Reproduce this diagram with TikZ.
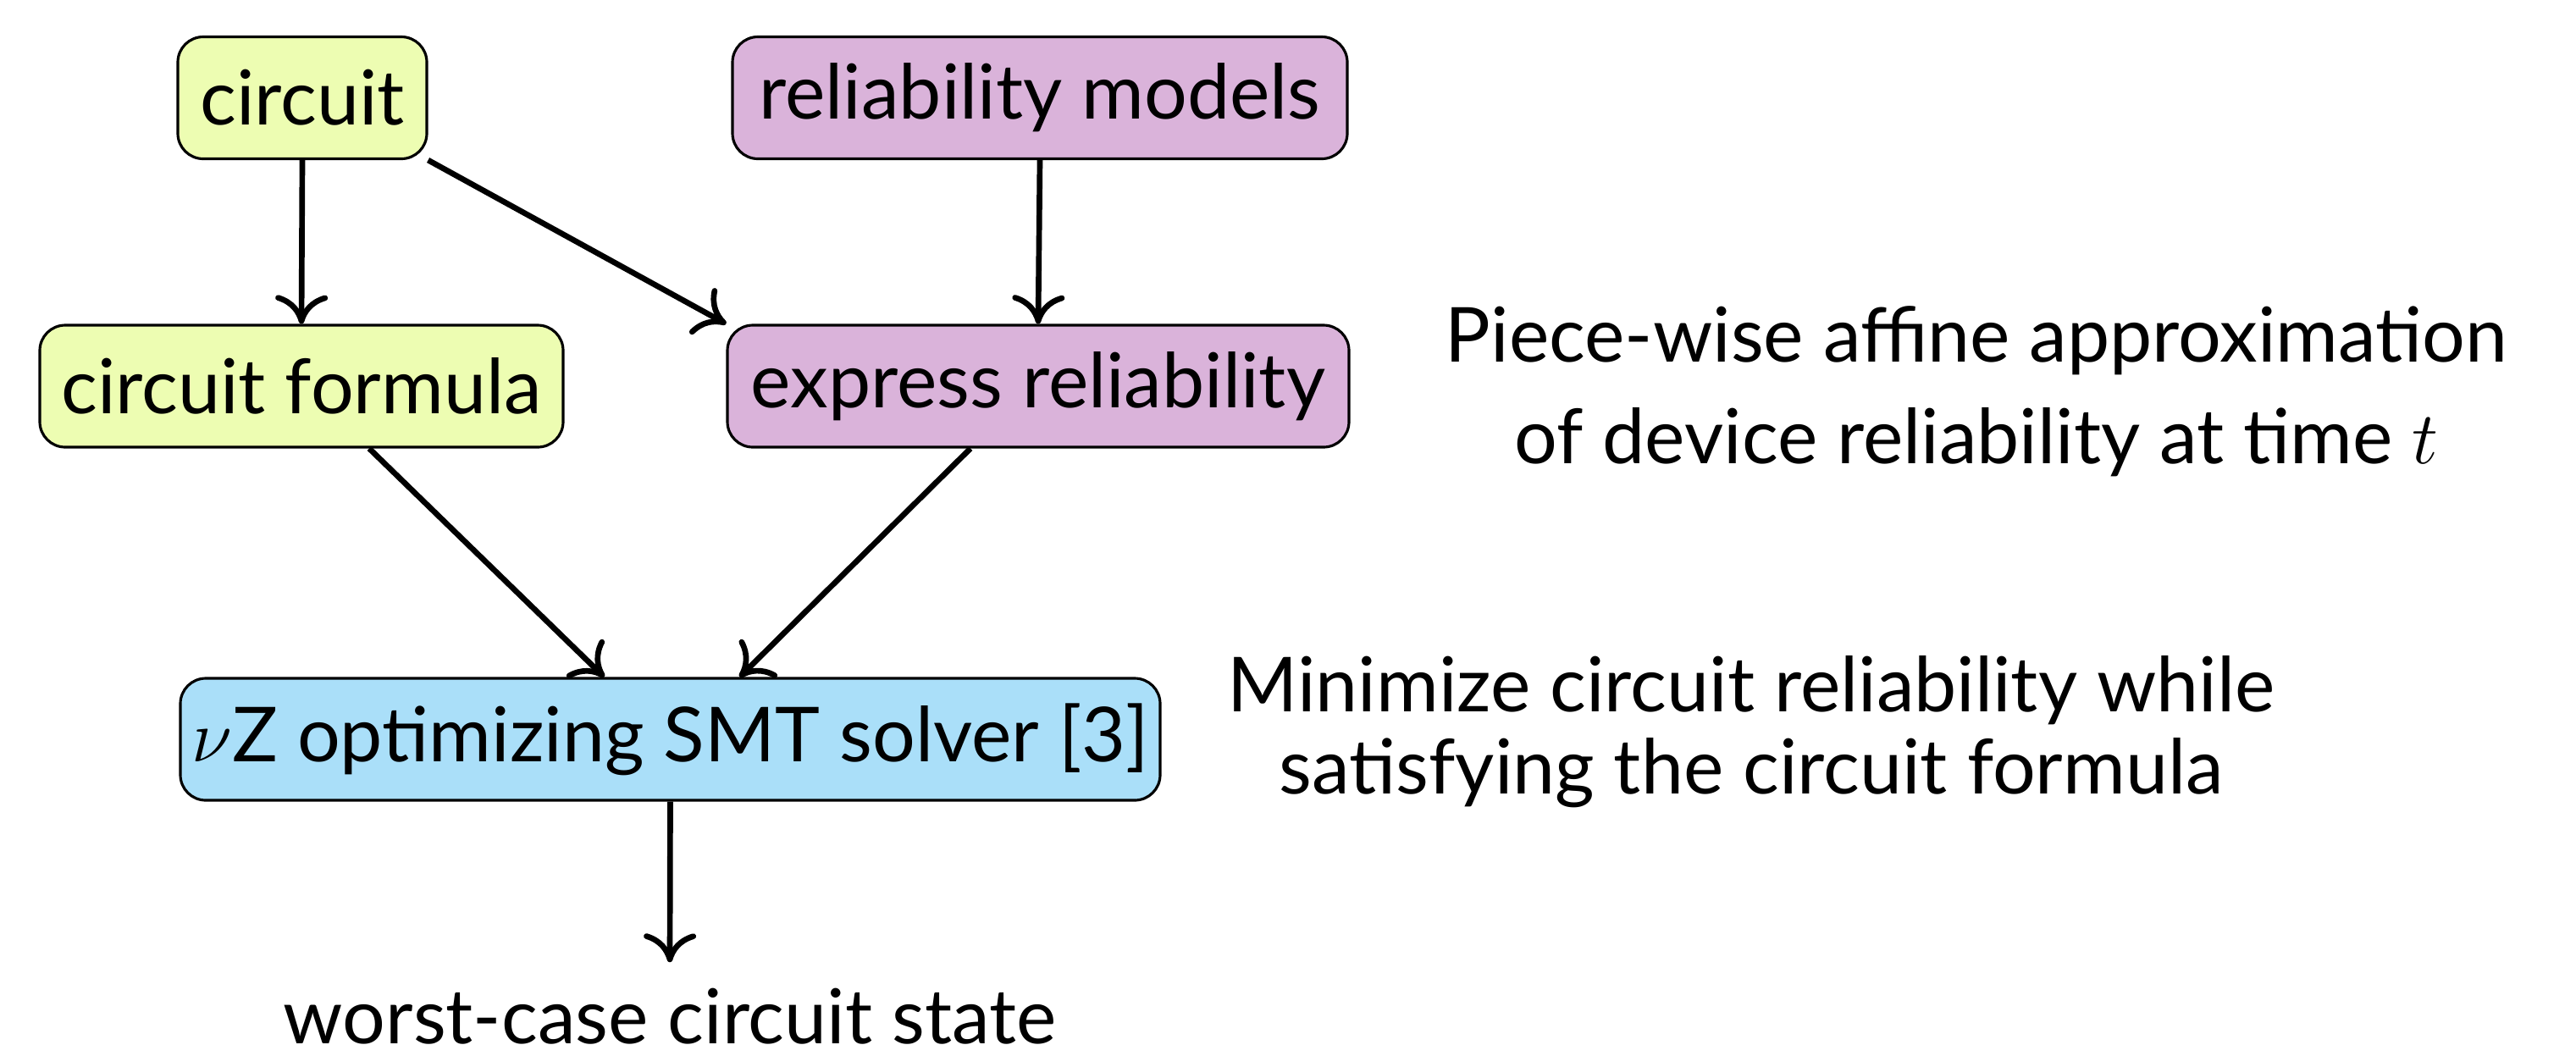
\documentclass[tikz,border=0pt]{standalone}
\usepackage{fontspec}
\setmainfont{Lato}
\usetikzlibrary{arrows.meta}
\definecolor{circgreen}{HTML}{EDFDB2}
\definecolor{relpurple}{HTML}{DAB3DA}
\definecolor{solverblue}{HTML}{AADFF9}
\begin{document}
\begin{tikzpicture}[
  x=1cm, y=-1cm,
  box/.style={draw=black, line width=0.9pt, rounded corners=0.3cm,
    minimum height=1.44cm, inner sep=0pt, font=\fontsize{25.5}{30}\selectfont},
  flow/.style={line width=1.9pt, -{To[length=3.4mm,width=6.2mm]}},
  note/.style={align=center}
]
\useasboundingbox (0,0) rectangle (30.42,12.46);

\node[box, fill=circgreen, minimum width=2.94cm] (circ) at (3.57,1.155) {circuit};
\node[box, fill=relpurple, minimum width=7.26cm] (relm) at (12.28,1.155) {reliability models};
\node[box, fill=circgreen, minimum width=6.18cm] (cform) at (3.56,4.56) {circuit formula};
\node[box, fill=relpurple, minimum width=7.34cm] (expr) at (12.26,4.56) {express reliability};
\node[box, fill=solverblue, minimum width=11.57cm] (solver) at (7.915,8.73) {$\nu$Z optimizing SMT solver [3]};
\node[font=\fontsize{25.5}{30}\selectfont, inner sep=0pt] (worst) at (7.91,12.0) {worst-case circuit state};

\node[note, font=\fontsize{25.5}{34}\selectfont] (approx) at (23.34,4.62) {Piece-wise affine approximation\\ of device reliability at time $t$};
\node[note, font=\fontsize{25.5}{27.6}\selectfont] (minim) at (20.68,8.64) {Minimize circuit reliability while\\ satisfying the circuit formula};

\draw[flow] (circ.south) -- (cform.north);
\draw[flow] (circ.south east) -- (expr.north west);
\draw[flow] (relm.south) -- (expr.north);
\draw[flow] ([xshift=0.8cm]cform.south) -- ([xshift=-0.78cm]solver.north);
\draw[flow] ([xshift=-0.8cm]expr.south) -- ([xshift=0.82cm]solver.north);
\draw[flow] (solver.south) -- ([yshift=0.3cm]worst.north);
\end{tikzpicture}
\end{document}
